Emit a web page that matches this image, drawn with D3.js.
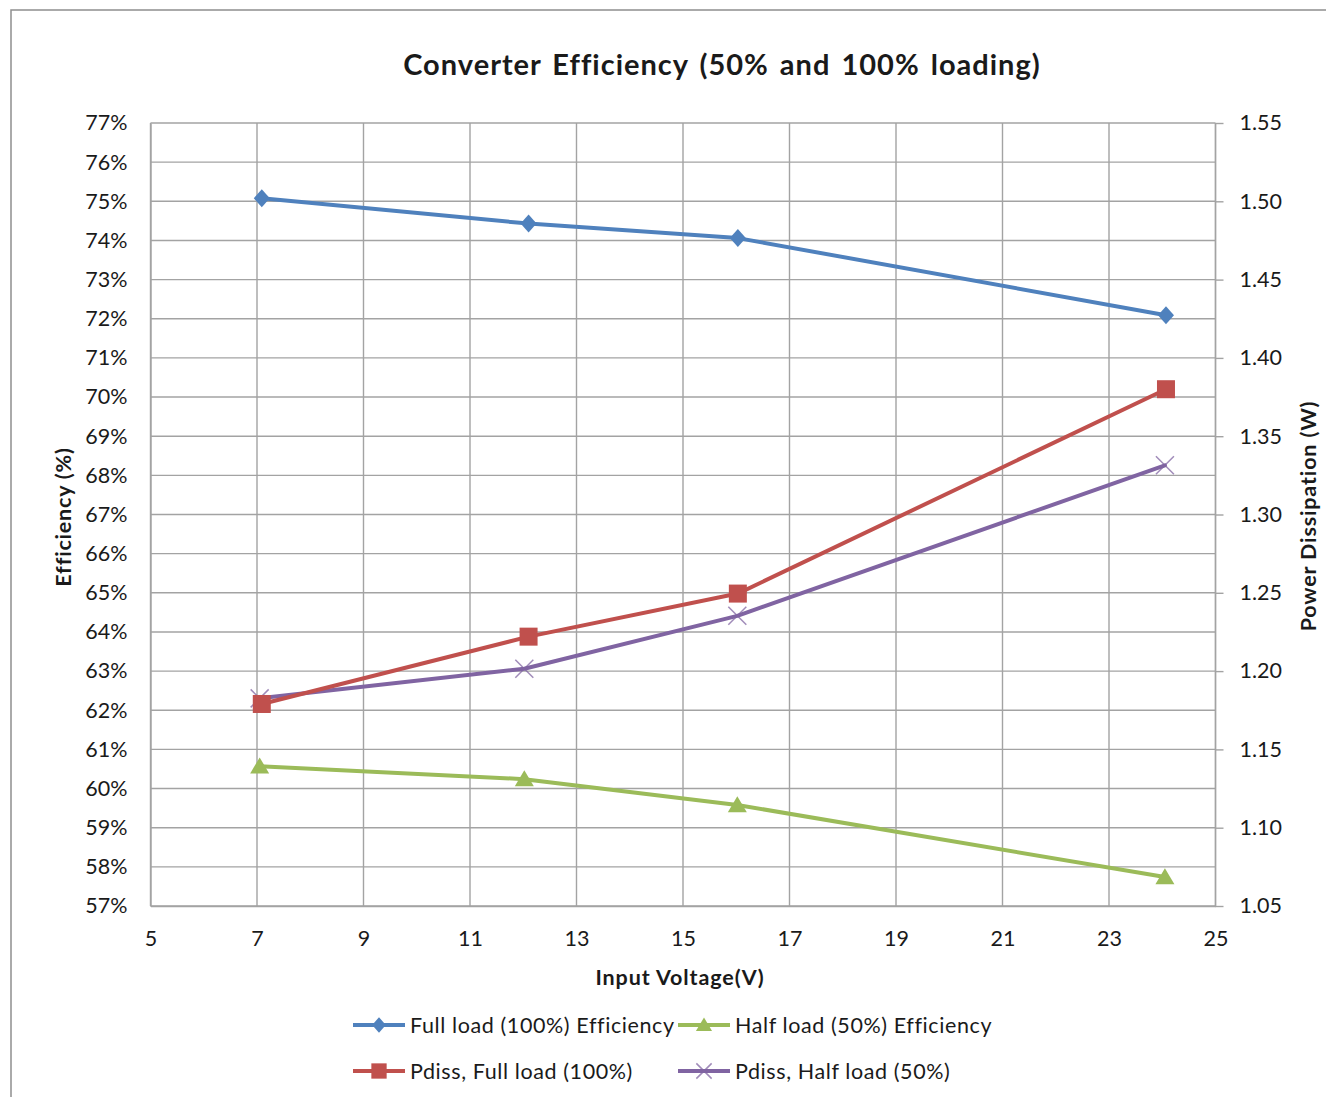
<!DOCTYPE html>
<html>
<head>
<meta charset="utf-8">
<script src="https://cdn.jsdelivr.net/npm/d3@7"></script>
<style>
  html, body { margin: 0; padding: 0; background: #fff; }
  svg { display: block; }
  text { font-family: Lato, "Noto Sans", sans-serif; fill: #1a1a1a; }
</style>
</head>
<body>
<svg id="chart" width="1326" height="1097"></svg>
<script>
// Measured operating points (input voltage in V)
const fullLoadVin = [7.09, 12.1, 16.03, 24.07];
const halfLoadVin = [7.05, 12.02, 16.02, 24.05];

// Efficiency, percent (left axis)
const fullLoadEff = [75.08, 74.43, 74.06, 72.09];
const halfLoadEff = [60.57, 60.24, 59.58, 57.74];

// Power dissipation, W (right axis)
const fullLoadPdiss = [1.179, 1.222, 1.2495, 1.380];
const halfLoadPdiss = [1.1826, 1.2015, 1.2353, 1.3314];

// Tick values
const xTicks = [5, 7, 9, 11, 13, 15, 17, 19, 21, 23, 25];
const effTicks = d3.range(57, 78, 1);
const pdissTicks = [1.05, 1.10, 1.15, 1.20, 1.25, 1.30, 1.35, 1.40, 1.45, 1.50, 1.55];

const series = [
  { name: "Full load (100%) Efficiency", x: fullLoadVin, y: fullLoadEff, axis: "left", color: "#4F81BD", marker: "diamond" },
  { name: "Half load (50%) Efficiency", x: halfLoadVin, y: halfLoadEff, axis: "left", color: "#9BBB59", marker: "triangle" },
  { name: "Pdiss, Full load (100%)", x: fullLoadVin, y: fullLoadPdiss, axis: "right", color: "#C0504D", marker: "square" },
  { name: "Pdiss, Half load (50%)", x: halfLoadVin, y: halfLoadPdiss, axis: "right", color: "#8064A2", marker: "cross" }
];

const svg = d3.select("#chart");
const plot = { left: 150.5, right: 1215.5, top: 123, bottom: 906 };

const x = d3.scaleLinear().domain([5, 25]).range([plot.left, plot.right]);
const yL = d3.scaleLinear().domain([57, 77]).range([plot.bottom, plot.top]);
const yR = d3.scaleLinear().domain([1.05, 1.55]).range([plot.bottom, plot.top]);

// Chart area frame
svg.append("rect")
  .attr("x", 11).attr("y", 10).attr("width", 1330).attr("height", 1100)
  .attr("fill", "#fff").attr("stroke", "#8f8f8f").attr("stroke-width", 1.5);

const gridColor = "#a3a3a3";

// Gridlines
svg.append("g").selectAll("line.h").data(effTicks).join("line")
  .attr("x1", plot.left).attr("x2", plot.right)
  .attr("y1", d => yL(d)).attr("y2", d => yL(d))
  .attr("stroke", gridColor).attr("stroke-width", 1.4);
svg.append("g").selectAll("line.v").data(xTicks).join("line")
  .attr("x1", d => x(d)).attr("x2", d => x(d))
  .attr("y1", plot.top).attr("y2", plot.bottom)
  .attr("stroke", gridColor).attr("stroke-width", 1.4);

// Axes
const tickFont = "21.5px";
const gLeft = svg.append("g").attr("transform", `translate(${plot.left},0)`)
  .call(d3.axisLeft(yL).tickValues(effTicks).tickSize(0).tickPadding(23).tickFormat(d => d + "%"));
const gRight = svg.append("g").attr("transform", `translate(${plot.right},0)`)
  .call(d3.axisRight(yR).tickValues(pdissTicks).tickSize(8).tickPadding(16).tickFormat(d3.format(".2f")));
const gBottom = svg.append("g").attr("transform", `translate(0,${plot.bottom})`)
  .call(d3.axisBottom(x).tickValues(xTicks).tickSize(0).tickPadding(25).tickFormat(d3.format("d")));

[gLeft, gRight, gBottom].forEach(g => {
  g.select(".domain").attr("stroke", gridColor).attr("stroke-width", 1.4);
  g.selectAll(".tick line").attr("stroke", gridColor).attr("stroke-width", 1.4);
  g.selectAll(".tick text").style("font-family", "Lato, 'Noto Sans', sans-serif")
    .style("font-size", tickFont).attr("fill", "#1a1a1a");
});
gRight.select(".domain").attr("d", `M0,${plot.top}V${plot.bottom}`);

// Marker shapes
function drawMarker(g, type, color, cx, cy, s) {
  s = s || 1;
  if (type === "diamond") {
    const hw = 8 * s, hh = 9 * s;
    g.append("path").attr("d", `M${cx},${cy - hh}L${cx + hw},${cy}L${cx},${cy + hh}L${cx - hw},${cy}Z`)
      .attr("fill", color);
  } else if (type === "square") {
    const w = 18 * s;
    g.append("rect").attr("x", cx - w / 2).attr("y", cy - w / 2).attr("width", w).attr("height", w)
      .attr("fill", color);
  } else if (type === "triangle") {
    const hw = 9.5 * s, h = 16 * s;
    g.append("path").attr("d", `M${cx},${cy - h * 0.55}L${cx + hw},${cy + h * 0.45}L${cx - hw},${cy + h * 0.45}Z`)
      .attr("fill", color);
  } else if (type === "cross") {
    const r = 9 * s;
    g.append("path").attr("d", `M${cx - r},${cy - r}L${cx + r},${cy + r}M${cx - r},${cy + r}L${cx + r},${cy - r}`)
      .attr("stroke", color).attr("stroke-width", 1.5).attr("fill", "none").attr("opacity", 0.75);
  }
}

// Series lines and markers
const drawOrder = [0, 1, 3, 2];
drawOrder.forEach(i => {
  const s = series[i];
  const ys = s.axis === "left" ? yL : yR;
  const pts = s.x.map((v, k) => [x(v), ys(s.y[k])]);
  const g = svg.append("g");
  g.append("path").attr("d", d3.line()(pts))
    .attr("fill", "none").attr("stroke", s.color).attr("stroke-width", 4)
    .attr("stroke-linejoin", "round").attr("stroke-linecap", "round");
  pts.forEach(p => drawMarker(g, s.marker, s.color, p[0], p[1]));
});

// Title
svg.append("text").attr("x", 722).attr("y", 75).attr("text-anchor", "middle")
  .style("font-size", "29px").style("font-weight", "bold")
  .attr("letter-spacing", "1px").attr("word-spacing", "3px")
  .text("Converter Efficiency (50% and 100% loading)");

// Axis titles
svg.append("text").attr("x", 680).attr("y", 985).attr("text-anchor", "middle")
  .style("font-size", "21.5px").style("font-weight", "bold").attr("letter-spacing", "0.9px")
  .text("Input Voltage(V)");
svg.append("text").attr("transform", "translate(71,517) rotate(-90)").attr("text-anchor", "middle")
  .style("font-size", "21.5px").style("font-weight", "bold").attr("letter-spacing", "0.8px")
  .text("Efficiency (%)");
svg.append("text").attr("transform", "translate(1316,516) rotate(-90)").attr("text-anchor", "middle")
  .style("font-size", "21.5px").style("font-weight", "bold").attr("letter-spacing", "0.85px")
  .text("Power Dissipation (W)");

// Legend
const legendPos = [
  { i: 0, x: 353, y: 1025 },
  { i: 1, x: 678, y: 1025 },
  { i: 2, x: 353, y: 1071 },
  { i: 3, x: 678, y: 1071 }
];
const legend = svg.append("g");
legendPos.forEach(p => {
  const s = series[p.i];
  const g = legend.append("g");
  g.append("line").attr("x1", p.x).attr("x2", p.x + 52).attr("y1", p.y).attr("y2", p.y)
    .attr("stroke", s.color).attr("stroke-width", 4);
  drawMarker(g, s.marker, s.color, p.x + 26, p.y, 0.85);
  g.append("text").attr("x", p.x + 57).attr("y", p.y + 8)
    .style("font-size", "21.5px").attr("letter-spacing", "0.6px").text(s.name);
});
</script>
</body>
</html>
